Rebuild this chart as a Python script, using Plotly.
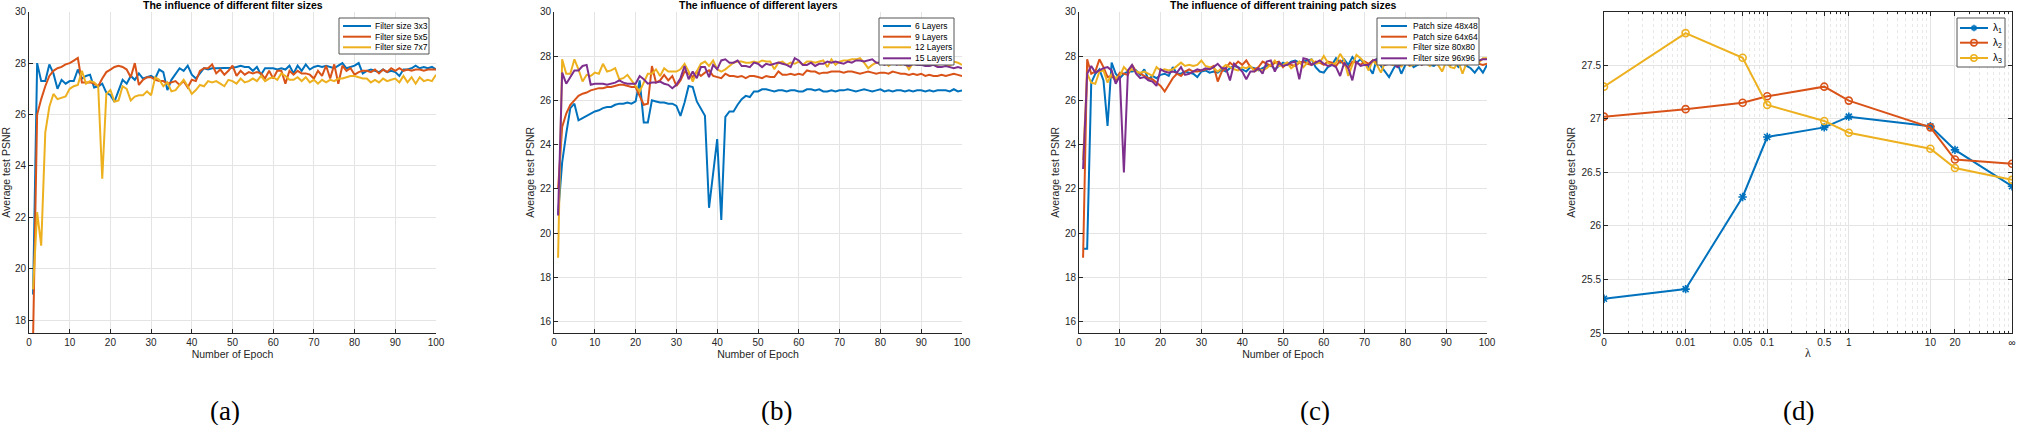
import plotly.graph_objects as go

W, H = 2019, 425

# ---------------- DATA ----------------
epochs = list(range(1, 101))

# (a) filter sizes
a_3x3 = [19.0, 28.0, 27.3, 27.3, 27.95, 27.6, 27.0, 27.35, 27.2, 27.3,
         27.3, 27.75, 27.4, 27.5, 27.55, 27.05, 27.1, 27.2, 26.85, 26.75,
         26.5, 26.9, 27.35, 27.2, 27.5, 27.35, 27.6, 27.4, 27.45, 27.5,
         27.4, 27.75, 27.65, 26.95, 27.35, 27.6, 27.8, 27.7, 27.9, 27.55,
         27.4, 27.6, 27.8, 27.75, 27.8, 27.8, 27.8, 27.8, 27.8, 27.82,
         27.85, 27.9, 27.85, 27.85, 27.7, 27.85, 27.55, 27.8, 27.8, 27.8,
         27.75, 27.8, 27.75, 27.9, 27.6, 27.9, 27.7, 27.95, 27.75, 27.85,
         27.9, 27.85, 27.9, 27.85, 27.8, 27.9, 28.0, 27.8, 27.85, 27.9,
         28.0, 27.6, 27.7, 27.75, 27.7, 27.65, 27.75, 27.65, 27.7, 27.65,
         27.5, 27.75, 27.75, 27.8, 27.9, 27.8, 27.85, 27.8, 27.85, 27.75]
a_5x5 = [17.3, 26.0, 26.6, 27.1, 27.5, 27.7, 27.8, 27.85, 27.95, 28.0,
         28.1, 28.2, 27.25, 27.25, 27.25, 27.2, 27.1, 27.4, 27.65, 27.75,
         27.85, 27.9, 27.85, 27.75, 27.45, 28.0, 27.15, 27.35, 27.45, 27.45,
         27.35, 27.3, 27.3, 27.2, 27.25, 27.3, 27.15, 27.3, 27.05, 27.35,
         27.3, 27.7, 27.8, 27.8, 27.95, 27.6, 27.75, 27.55, 27.7, 27.9,
         27.5, 27.7, 27.55, 27.65, 27.6, 27.65, 27.6, 27.4, 27.7, 27.4,
         27.7, 27.7, 27.2, 27.7, 27.55, 27.7, 27.6, 27.6, 27.55, 27.4,
         27.7, 27.5, 27.9, 27.4, 27.95, 27.2, 27.9, 27.7, 27.8, 27.55,
         27.65, 27.7, 27.7, 27.65, 27.75, 27.6, 27.75, 27.65, 27.8, 27.7,
         27.8, 27.7, 27.75, 27.7, 27.75, 27.75, 27.7, 27.75, 27.75, 27.75]
a_7x7 = [19.2, 22.2, 20.9, 25.3, 26.3, 26.8, 26.6, 26.65, 26.7, 27.0,
         27.1, 27.15, 27.7, 27.2, 27.3, 27.25, 27.1, 23.5, 26.8, 26.95,
         26.5, 26.55, 27.1, 27.0, 26.55, 26.7, 26.75, 26.75, 26.9, 26.75,
         27.45, 27.35, 27.1, 27.25, 26.9, 26.95, 27.15, 27.35, 27.1, 26.8,
         26.95, 27.15, 27.1, 27.3, 27.25, 27.3, 27.2, 27.1, 27.35, 27.3,
         27.2, 27.4, 27.25, 27.3, 27.4, 27.3, 27.5, 27.3, 27.4, 27.45,
         27.35, 27.6, 27.5, 27.35, 27.35, 27.45, 27.3, 27.45, 27.25, 27.35,
         27.2, 27.35, 27.25, 27.35, 27.3, 27.4, 27.4, 27.45, 27.5, 27.5,
         27.45, 27.4, 27.4, 27.25, 27.35, 27.25, 27.4, 27.3, 27.35, 27.4,
         27.25, 27.5, 27.25, 27.45, 27.2, 27.45, 27.3, 27.35, 27.3, 27.55]

# (b) layers
b_6 = [20.85, 23.2, 24.5, 25.65, 25.85, 25.1, 25.2, 25.3, 25.4, 25.5,
       25.55, 25.65, 25.7, 25.7, 25.8, 25.85, 25.85, 25.9, 25.85, 25.95,
       26.9, 25.0, 25.0, 26.0, 25.95, 25.9, 25.9, 25.85, 25.85, 25.75,
       25.3, 25.9, 26.65, 26.6, 25.95, 25.6, 25.3, 21.15, 22.8, 24.25,
       20.6, 25.25, 25.5, 25.5, 25.8, 26.05, 26.2, 26.15, 26.4, 26.4,
       26.5, 26.5, 26.45, 26.4, 26.45, 26.45, 26.4, 26.45, 26.45, 26.4,
       26.4, 26.5, 26.5, 26.45, 26.5, 26.4, 26.4, 26.45, 26.4, 26.45,
       26.45, 26.5, 26.45, 26.4, 26.45, 26.5, 26.45, 26.4, 26.45, 26.5,
       26.4, 26.45, 26.4, 26.45, 26.45, 26.4, 26.45, 26.4, 26.45, 26.45,
       26.4, 26.45, 26.4, 26.45, 26.45, 26.45, 26.4, 26.5, 26.4, 26.45]
b_9 = [22.0, 24.8, 25.4, 25.8, 26.0, 26.2, 26.3, 26.35, 26.45, 26.5,
       26.55, 26.55, 26.6, 26.6, 26.65, 26.7, 26.7, 26.65, 26.6, 26.6,
       26.2, 25.8, 25.85, 27.55, 26.8, 26.9, 27.15, 26.9, 27.1, 26.65,
       26.9, 27.3, 27.2, 27.05, 27.3, 27.1, 27.25, 27.35, 27.1, 27.05,
       27.0, 27.2, 27.1, 27.1, 27.05, 27.1, 27.0, 27.1, 27.1, 27.05,
       27.0, 27.1, 27.05, 27.05, 27.3, 27.15, 27.15, 27.2, 27.15, 27.2,
       27.15, 27.35, 27.3, 27.3, 27.2, 27.25, 27.25, 27.3, 27.3, 27.3,
       27.25, 27.3, 27.3, 27.25, 27.2, 27.25, 27.3, 27.25, 27.2, 27.25,
       27.25, 27.2, 27.3, 27.25, 27.2, 27.2, 27.15, 27.2, 27.15, 27.2,
       27.1, 27.15, 27.1, 27.1, 27.15, 27.1, 27.15, 27.2, 27.15, 27.1]
b_12 = [18.9, 27.85, 27.2, 27.2, 27.85, 27.4, 26.85, 27.15, 27.1, 27.25,
        27.2, 27.65, 27.3, 27.35, 27.45, 26.95, 27.0, 27.15, 26.9, 26.65,
        26.4, 26.8, 27.2, 27.2, 27.4, 27.1, 27.45, 27.3, 27.3, 27.3,
        27.4, 27.65, 27.3, 26.85, 27.3, 27.65, 27.75, 27.55, 27.8, 27.4,
        27.3, 27.4, 27.55, 27.7, 27.75, 27.75, 27.7, 27.7, 27.75, 27.7,
        27.8, 27.75, 27.75, 27.4, 27.7, 27.75, 27.6, 27.7, 27.65, 27.75,
        27.6, 27.75, 27.75, 27.7, 27.75, 27.8, 27.5, 27.85, 27.6, 27.75,
        27.8, 27.8, 27.85, 27.85, 27.9, 27.7, 27.45, 27.6, 27.7, 27.65,
        27.75, 27.55, 27.7, 27.65, 27.6, 27.7, 27.4, 27.7, 27.65, 27.75,
        27.7, 27.8, 27.65, 27.6, 27.75, 27.6, 27.55, 27.75, 27.7, 27.6]
b_15 = [20.8, 27.25, 26.75, 27.05, 27.35, 27.35, 27.55, 27.6, 26.7, 26.75,
        26.75, 26.75, 26.7, 26.75, 26.8, 26.9, 26.8, 26.75, 26.75, 26.75,
        27.1, 26.95, 26.75, 26.8, 26.8, 26.85, 26.75, 26.7, 26.55, 26.7,
        27.0, 27.55, 26.95, 27.3, 27.0, 27.5, 27.5, 27.05, 27.6, 27.4,
        27.8, 27.85, 27.7, 27.7, 27.8, 27.55, 27.55, 27.5, 27.7, 27.65,
        27.5, 27.65, 27.6, 27.65, 27.7, 27.65, 27.6, 27.5, 27.9, 27.8,
        27.6, 27.6, 27.7, 27.55, 27.65, 27.65, 27.75, 27.7, 27.75, 27.7,
        27.65, 27.75, 27.7, 27.8, 27.8, 27.75, 27.8, 27.85, 27.7, 27.7,
        27.6, 27.7, 27.75, 27.6, 27.7, 27.6, 27.55, 27.65, 27.6, 27.6,
        27.55, 27.55, 27.6, 27.5, 27.5, 27.55, 27.5, 27.45, 27.5, 27.45]

# (c) training patch sizes
c_48 = [19.3, 19.3, 26.8, 27.2, 27.4, 26.9, 24.85, 27.7, 27.2, 27.0,
        27.2, 27.3, 27.3, 27.35, 27.15, 27.4, 26.95, 27.1, 27.0, 27.15,
        27.2, 27.1, 27.5, 27.2, 27.2, 27.3, 27.25, 27.2, 27.05, 27.3,
        27.35, 27.25, 27.3, 27.25, 27.4, 27.3, 27.45, 27.55, 27.5, 27.4,
        27.3, 27.5, 27.45, 27.35, 27.45, 27.55, 27.6, 27.4, 27.55, 27.7,
        27.6, 27.75, 27.8, 27.7, 27.75, 27.8, 27.85, 27.5, 27.3, 27.25,
        27.5, 27.6, 27.9, 27.7, 27.85, 27.6, 27.95, 27.7, 27.85, 27.65,
        27.5, 27.2, 27.9, 27.55, 27.3, 27.05, 27.4, 27.7, 27.2, 27.6,
        27.8, 27.5, 27.6, 27.7, 27.75, 27.6, 27.55, 27.7, 27.85, 27.65,
        27.6, 27.7, 27.5, 27.7, 27.55, 27.45, 27.25, 27.5, 27.25, 27.6]
c_64 = [18.9, 27.85, 27.2, 27.3, 27.85, 27.5, 27.05, 27.1, 26.9, 27.25,
        27.2, 27.15, 27.6, 27.3, 27.2, 27.1, 27.0, 26.95, 26.8, 26.65,
        26.4, 26.7, 27.0, 27.2, 27.1, 27.3, 27.4, 27.3, 27.3, 27.35,
        27.4, 27.45, 27.55, 26.85, 27.3, 27.45, 27.7, 27.55, 27.75, 27.6,
        27.8, 27.5, 27.4, 27.5, 27.75, 27.65, 27.55, 27.7, 27.75, 27.5,
        27.7, 27.6, 27.55, 27.7, 27.75, 27.65, 27.6, 27.75, 27.7, 27.6,
        27.75, 27.7, 27.55, 27.8, 27.6, 27.45, 27.75, 27.7, 27.6, 27.75,
        27.65, 27.8, 27.7, 27.6, 27.85, 27.65, 27.6, 27.85, 27.7, 27.65,
        27.6, 27.75, 27.7, 27.65, 27.8, 27.6, 27.7, 27.75, 27.65, 27.7,
        27.6, 27.75, 27.65, 27.7, 27.6, 27.75, 27.7, 27.65, 27.6, 27.65]
c_80 = [23.3, 27.2, 26.8, 26.75, 27.3, 27.35, 26.8, 27.2, 27.0, 27.1,
        27.5, 27.3, 27.4, 27.3, 27.25, 27.3, 27.2, 27.1, 27.5, 27.35,
        27.4, 27.35, 27.4, 27.55, 27.7, 27.55, 27.6, 27.55, 27.6, 27.8,
        27.55, 27.5, 27.45, 27.3, 27.45, 27.6, 27.5, 27.4, 27.35, 27.5,
        27.45, 27.55, 27.3, 27.4, 27.35, 27.45, 27.6, 27.8, 27.55, 27.6,
        27.7, 27.45, 27.6, 27.75, 27.5, 27.7, 27.85, 27.65, 27.7, 28.0,
        27.7, 27.6, 27.7, 28.1, 27.8, 27.1, 27.6, 28.05, 27.9, 27.7,
        27.35, 27.8, 27.6, 27.25, 27.7, 27.85, 27.6, 27.8, 27.5, 27.9,
        27.55, 27.6, 27.85, 27.6, 27.7, 27.55, 27.8, 27.6, 27.3, 27.75,
        27.5, 27.45, 27.75, 27.2, 27.7, 27.85, 27.75, 27.7, 27.9, 27.9]
c_96 = [22.9, 27.2, 27.55, 27.25, 27.35, 27.45, 27.5, 27.35, 26.75, 27.1,
        22.75, 27.35, 27.6, 27.2, 27.0, 27.05, 26.9, 26.85, 26.65, 27.4,
        27.3, 27.25, 27.3, 27.25, 27.5, 27.15, 27.2, 27.3, 27.4, 27.35,
        27.45, 27.4, 27.5, 27.65, 27.45, 27.45, 26.9, 27.65, 27.45, 27.3,
        26.95, 27.3, 27.3, 27.45, 27.2, 27.75, 27.8, 27.3, 27.7, 27.55,
        27.6, 27.7, 27.75, 26.95, 27.9, 27.85, 27.6, 27.7, 27.8, 27.65,
        27.55, 27.6, 27.5, 27.1, 27.7, 27.45, 26.9, 27.75, 27.55, 27.6,
        27.6, 27.8, 27.85, 27.7, 27.6, 27.65, 27.7, 27.5, 27.65, 27.85,
        27.6, 27.7, 27.75, 27.6, 27.7, 27.8, 27.7, 27.65, 27.75, 27.8,
        27.7, 27.75, 27.8, 27.7, 27.75, 27.8, 27.85, 27.8, 27.85, 27.85]

# (d) lambda
lam_x = [0.001, 0.01, 0.05, 0.1, 0.5, 1, 10, 20, 100]
lam_ticktext = ["0", "0.01", "0.05", "0.1", "0.5", "1", "10", "20", "\u221e"]
lam1 = [25.32, 25.41, 26.27, 26.83, 26.92, 27.02, 26.93, 26.71, 26.37]
lam2 = [27.02, 27.09, 27.15, 27.21, 27.30, 27.17, 26.92, 26.62, 26.58]
lam3 = [27.30, 27.80, 27.57, 27.13, 26.98, 26.87, 26.72, 26.54, 26.43]

names_a = ["Filter size 3x3", "Filter size 5x5", "Filter size 7x7"]
names_b = ["6 Layers", "9 Layers", "12 Layers", "15 Layers"]
names_c = ["Patch size 48x48", "Patch size 64x64", "Filter size 80x80", "Filter size 96x96"]
names_d = ["\u03bb<sub>1</sub>", "\u03bb<sub>2</sub>", "\u03bb<sub>3</sub>"]
titles = ["The influence of different filter sizes",
          "The influence of different layers",
          "The influence of different training patch sizes"]
panel_labels = ["(a)", "(b)", "(c)", "(d)"]

COLORS = ["#0072BD", "#D95319", "#EDB120", "#7E2F8E"]

# ---------------- LAYOUT HELPERS ----------------
def PX(x):
    return x / W

def PY(y):
    return 1 - y / H

plot_x = [(29, 436), (554, 962), (1079, 1487), (1604, 2012)]
plot_y = (11.7, 333)
ydom = [PY(plot_y[1]), PY(plot_y[0])]

AX = "#262626"
GRID = "#e4e4e4"
FONT = "Liberation Sans"

fig = go.Figure()

panels = [
    (epochs, [a_3x3, a_5x5, a_7x7], names_a),
    (epochs, [b_6, b_9, b_12, b_15], names_b),
    (epochs, [c_48, c_64, c_80, c_96], names_c),
]
for i, (xs, series, names) in enumerate(panels):
    k = "" if i == 0 else str(i + 1)
    for j, (ys, nm) in enumerate(zip(series, names)):
        fig.add_trace(go.Scatter(x=xs, y=ys, mode="lines", name=nm,
                                 line=dict(color=COLORS[j], width=2),
                                 xaxis="x" + k, yaxis="y" + k, showlegend=False))

symbols = ["asterisk-open", "circle-open", "circle-open"]
for j, ys in enumerate([lam1, lam2, lam3]):
    fig.add_trace(go.Scatter(x=lam_x, y=ys, mode="lines+markers", name=names_d[j],
                             line=dict(color=COLORS[j], width=2),
                             marker=dict(symbol=symbols[j], size=7, color=COLORS[j],
                                         line=dict(color=COLORS[j], width=1.6)),
                             xaxis="x4", yaxis="y4", showlegend=False))

common = dict(showline=True, linecolor=AX, linewidth=1, ticks="inside", ticklen=4,
              tickcolor=AX, tickfont=dict(family=FONT, size=10, color=AX),
              showgrid=True, gridcolor=GRID, gridwidth=1, zeroline=False, automargin=False)
title_font = dict(family=FONT, size=10.5, color=AX)

layout = dict(width=W, height=H, margin=dict(l=0, r=0, t=0, b=0, autoexpand=False),
              paper_bgcolor="white", plot_bgcolor="white", showlegend=False)

yranges = [[17.5, 30], [15.5, 30], [15.5, 30]]
yticks = [list(range(18, 31, 2)), list(range(16, 31, 2)), list(range(16, 31, 2))]
for i in range(3):
    k = "" if i == 0 else str(i + 1)
    layout["xaxis" + k] = dict(common, domain=[PX(plot_x[i][0]), PX(plot_x[i][1])],
                               anchor="y" + k, range=[0, 100], tickvals=list(range(0, 101, 10)),
                               title=dict(text="Number of Epoch", font=title_font, standoff=1))
    layout["yaxis" + k] = dict(common, domain=ydom, anchor="x" + k, range=yranges[i],
                               tickvals=yticks[i],
                               title=dict(text="Average test PSNR", font=title_font, standoff=3))

minor_vals = [m * 10 ** e for e in range(-3, 2) for m in range(2, 10)]
layout["xaxis4"] = dict(common, domain=[PX(plot_x[3][0]), PX(plot_x[3][1])], anchor="y4",
                        type="log", range=[-3, 2], tickvals=lam_x, ticktext=lam_ticktext,
                        mirror="ticks",
                        minor=dict(tickvals=minor_vals, ticks="inside", ticklen=2,
                                   tickcolor=AX, showgrid=True, gridcolor="#e8e8e8",
                                   griddash="dot", gridwidth=1),
                        title=dict(text="\u03bb", font=dict(family="Liberation Serif", size=12, color=AX),
                                   standoff=1))
layout["yaxis4"] = dict(common, domain=ydom, anchor="x4", range=[25, 28],
                        tickvals=[25, 25.5, 26, 26.5, 27, 27.5], mirror="ticks",
                        title=dict(text="Average test PSNR", font=title_font, standoff=3))
fig.update_layout(**layout)

annotations = []
shapes = []
# titles
for i, t in enumerate(titles):
    cx = (plot_x[i][0] + plot_x[i][1]) / 2
    annotations.append(dict(x=PX(cx), y=PY(4.5), xref="paper", yref="paper", text="<b>" + t + "</b>",
                            showarrow=False, xanchor="center", yanchor="middle",
                            font=dict(family=FONT, size=10.5, color="black")))
# panel labels
label_x = [224.5, 776, 1315, 1798]
for lx, lt in zip(label_x, panel_labels):
    annotations.append(dict(x=PX(lx), y=PY(411), xref="paper", yref="paper", text=lt,
                            showarrow=False, xanchor="center", yanchor="middle",
                            font=dict(family="Liberation Serif", size=27, color="black")))

# legends (drawn as box + samples + text)
legends = [
    dict(box=(339, 18, 429, 54), line=(343, 371), tx=373, rows=[26, 36.7, 47.3], names=names_a, fs=8.5),
    dict(box=(879, 18, 954, 65), line=(883, 911), tx=913, rows=[26, 36.7, 47.3, 58.3], names=names_b, fs=8.5),
    dict(box=(1377, 18, 1479, 65), line=(1381, 1407), tx=1411, rows=[26, 36.7, 47.3, 58.3], names=names_c, fs=8.5),
    dict(box=(1957, 18, 2005, 67), line=(1960, 1988), tx=1991, rows=[28, 42.7, 58], names=names_d, fs=10),
]
for li, L in enumerate(legends):
    x0, y0, x1, y1 = L["box"]
    shapes.append(dict(type="rect", xref="paper", yref="paper", x0=PX(x0), x1=PX(x1), y0=PY(y1), y1=PY(y0),
                       line=dict(color="#555555", width=1), fillcolor="white", layer="above"))
    for j, (ry, nm) in enumerate(zip(L["rows"], L["names"])):
        shapes.append(dict(type="line", xref="paper", yref="paper", x0=PX(L["line"][0]), x1=PX(L["line"][1]),
                           y0=PY(ry), y1=PY(ry), line=dict(color=COLORS[j], width=2), layer="above"))
        if li == 3:
            mx = (L["line"][0] + L["line"][1]) / 2
            if j == 0:
                r = 3.2
                for dx, dy in [(0, r), (r, 0), (0.72 * r, 0.72 * r), (0.72 * r, -0.72 * r)]:
                    shapes.append(dict(type="line", xref="paper", yref="paper",
                                       x0=PX(mx - dx), x1=PX(mx + dx), y0=PY(ry - dy), y1=PY(ry + dy),
                                       line=dict(color=COLORS[j], width=1.6), layer="above"))
            else:
                r = 3.2
                shapes.append(dict(type="circle", xref="paper", yref="paper",
                                   x0=PX(mx - r), x1=PX(mx + r), y0=PY(ry + r), y1=PY(ry - r),
                                   line=dict(color=COLORS[j], width=1.6), layer="above"))
        annotations.append(dict(x=PX(L["tx"]), y=PY(ry), xref="paper", yref="paper", text=nm,
                                showarrow=False, xanchor="left", yanchor="middle",
                                font=dict(family=FONT, size=L["fs"], color="black")))

fig.update_layout(annotations=annotations, shapes=shapes)
fig.write_html("out.html",
               config={"displayModeBar": False, "staticPlot": True},
               post_script="document.body.style.margin='0';document.body.style.padding='0';"
                           "document.body.style.overflow='hidden';")
